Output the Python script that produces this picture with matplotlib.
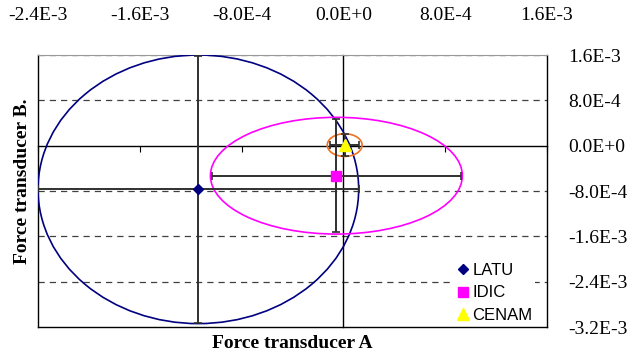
import matplotlib
matplotlib.use('Agg')
import matplotlib.pyplot as plt
from matplotlib.patches import Ellipse
from matplotlib.lines import Line2D

# laboratory results: centre (x, y) and uncertainties (ux, uy)
labs = ['LATU', 'IDIC', 'CENAM']
x_vals = [-1.14e-3, -5.5e-5, 1.0e-5]
y_vals = [-7.7e-4, -5.3e-4, 1.0e-5]
ux_vals = [1.26e-3, 9.8e-4, 1.15e-4]
uy_vals = [2.36e-3, 1.0e-3, 1.9e-4]
# ellipse half-axes
ex_vals = [1.26e-3, 9.9e-4, 1.37e-4]
ey_vals = [2.37e-3, 1.03e-3, 2.0e-4]

x_ticks = [-2.4e-3, -1.6e-3, -8.0e-4, 0.0, 8.0e-4, 1.6e-3]
x_labels = ['-2.4E-3', '-1.6E-3', '-8.0E-4', '0.0E+0', '8.0E-4', '1.6E-3']
y_ticks = [1.6e-3, 8.0e-4, 0.0, -8.0e-4, -1.6e-3, -2.4e-3, -3.2e-3]
y_labels = ['1.6E-3', '8.0E-4', '0.0E+0', '-8.0E-4', '-1.6E-3', '-2.4E-3', '-3.2E-3']

markers = ['D', 's', '^']
marker_sizes = [5, 7, 9]
colors = ['#000080', '#FF00FF', 'yellow']
ellipse_colors = ['#000080', '#FF00FF', '#F07020']

serif = 'Liberation Serif'

fig = plt.figure(figsize=(6.38, 3.56), dpi=100)
ax = fig.add_axes([38 / 638, 1 - 327 / 356, 509 / 638, 272 / 356])
ax.set_xlim(-2.4e-3, 1.6e-3)
ax.set_ylim(-3.2e-3, 1.6e-3)

# dashed horizontal gridlines
for yv in y_ticks:
    if yv != 0.0 and yv != -3.2e-3:
        ax.axhline(yv, color='#404040', lw=0.9, dashes=(5, 4), zorder=1)

# axes crossing at zero
ax.spines['bottom'].set_position(('data', 0))
ax.spines['left'].set_position(('data', 0))
ax.spines['top'].set_color('#999999')
for s in ['bottom', 'left', 'right']:
    ax.spines[s].set_color('black')
    ax.spines[s].set_linewidth(1.0)

# outer frame left and bottom
ax.add_line(Line2D([0, 0], [0, 1], transform=ax.transAxes, color='black', lw=1.0, clip_on=False))
ax.add_line(Line2D([0, 1], [0, 0], transform=ax.transAxes, color='black', lw=1.0, clip_on=False))

ax.set_xticks(x_ticks)
ax.set_xticklabels(x_labels)
ax.set_yticks(y_ticks)
ax.set_yticklabels(y_labels)
ax.tick_params(axis='x', which='both', top=True, bottom=True, labeltop=True, labelbottom=False,
               direction='out', length=4, pad=18, labelsize=14)
ax.tick_params(axis='y', which='both', left=False, right=False, labelleft=False, labelright=True,
               pad=12, labelsize=14)
for t in ax.xaxis.get_major_ticks():
    t.tick2line.set_visible(False)
for lab in ax.get_xticklabels() + ax.get_yticklabels():
    lab.set_fontfamily(serif)

# ellipses and error bars
for i in range(len(labs)):
    ax.add_patch(Ellipse((x_vals[i], y_vals[i]), 2 * ex_vals[i], 2 * ey_vals[i],
                         fill=False, edgecolor=ellipse_colors[i], lw=1.2, zorder=3))
    ax.errorbar(x_vals[i], y_vals[i], xerr=ux_vals[i], yerr=uy_vals[i], fmt='none',
                ecolor='#303030', elinewidth=1.4, capsize=3, capthick=1.2, zorder=4)
    ax.plot(x_vals[i], y_vals[i], linestyle='none', marker=markers[i], ms=marker_sizes[i],
            color=colors[i], label=labs[i], zorder=5)

leg = ax.legend(loc='lower right', bbox_to_anchor=(0.98, 0.0), borderaxespad=0.1,
                prop={'family': 'Liberation Sans', 'size': 12}, frameon=True, fancybox=False,
                framealpha=1, edgecolor='none', handlelength=0.7, handletextpad=0.25,
                labelspacing=0.45, borderpad=0.15)
leg.set_zorder(6)

ax.text(0.5, -0.03, 'Force transducer A', transform=ax.transAxes, ha='center', va='top',
        fontfamily=serif, fontweight='bold', fontsize=14)
ax.text(-0.03, 0.535, 'Force transducer B.', transform=ax.transAxes, ha='center', va='center',
        rotation=90, fontfamily=serif, fontweight='bold', fontsize=14)

fig.savefig('out.png', dpi=100)
